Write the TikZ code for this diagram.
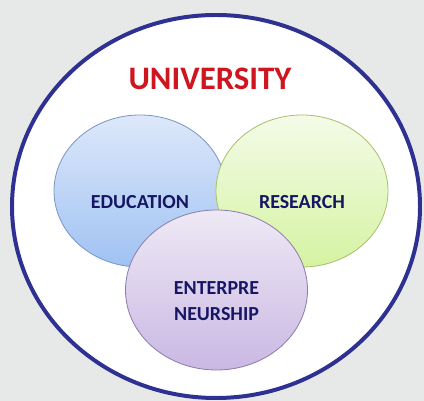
\documentclass[tikz,border=0pt]{standalone}
\usepackage{fontspec}
\setmainfont{Carlito}
\usetikzlibrary{shapes.geometric}
\definecolor{bggray}{HTML}{E7E9E9}
\definecolor{ringblue}{HTML}{2E3192}
\definecolor{unired}{HTML}{CF1520}
\definecolor{navytext}{HTML}{161664}
\definecolor{edutop}{HTML}{DDE8FA}
\definecolor{edubot}{HTML}{A0C2F3}
\definecolor{eduline}{HTML}{7A98C6}
\definecolor{restop}{HTML}{F4FBE8}
\definecolor{resbot}{HTML}{D5F3A2}
\definecolor{resline}{HTML}{A9C06E}
\definecolor{enttop}{HTML}{EEE9F5}
\definecolor{entbot}{HTML}{CAB8E3}
\definecolor{entline}{HTML}{8C7DAA}
\tikzset{
  blob/.style={ellipse, inner sep=0pt, line width=0.7pt},
  lbl/.style={text=navytext, font=\fontsize{17}{22}\selectfont\bfseries, align=center, inner sep=0pt}
}
\begin{document}
\begin{tikzpicture}[x=0.03cm, y=0.03cm]
  \def\u{0.03cm}
  %
  \fill[bggray] (0,0) rectangle (424,401);   % backdrop
  \useasboundingbox (0,0) rectangle (424,401);
  \node[ellipse, draw=ringblue, line width=3.4pt, fill=white,
        minimum width=408*\u, minimum height=383*\u] (uni) at (216,194.5) {};
  \node[text=unired, font=\fontsize{28}{30}\selectfont\bfseries] (unit) at (210,322) {UNIVERSITY};
  %
  \node[blob, draw=eduline, top color=edutop, bottom color=edubot,
        minimum width=172*\u, minimum height=152*\u] (edu) at (140,210) {};   % left
  \node[blob, draw=resline, top color=restop, bottom color=resbot,
        minimum width=172*\u, minimum height=152*\u] (res) at (302,210) {};   % right
  \node[blob, draw=entline, top color=enttop, bottom color=entbot,
        minimum width=182*\u, minimum height=160*\u] (ent) at (216.5,111) {};   % bottom
  %
  \node[lbl] (edut) at ([yshift=-11*\u]edu.center) {EDUCATION};
  \node[lbl] (rest) at ([yshift=-11*\u]res.center) {RESEARCH};
  \node[lbl] (entt) at ([yshift=-11*\u]ent.center) {ENTERPRE\\NEURSHIP};
\end{tikzpicture}
\end{document}
